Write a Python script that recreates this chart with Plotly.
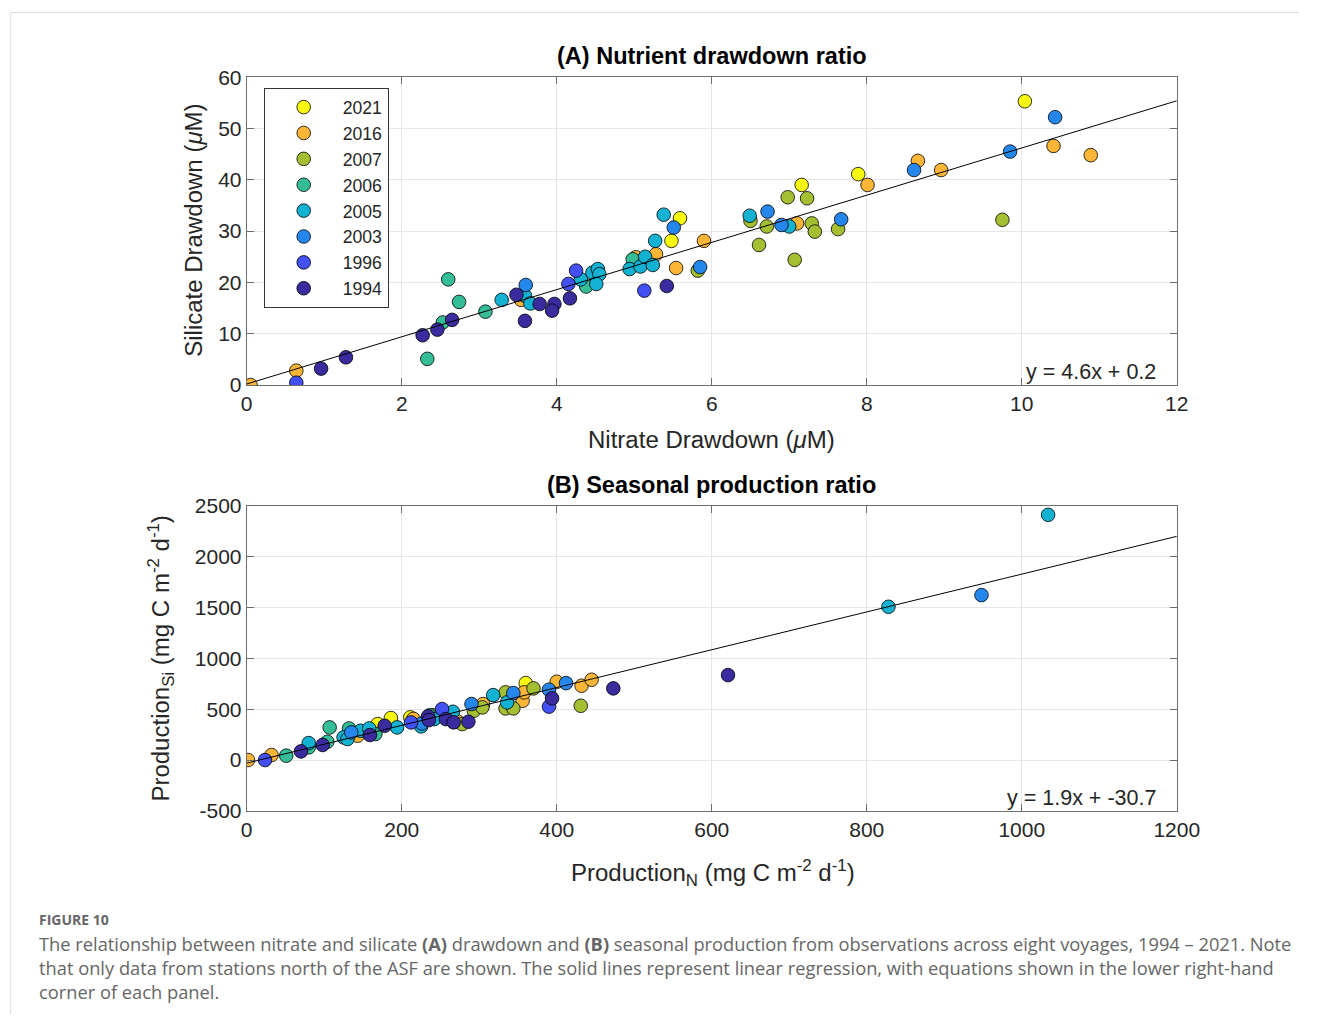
import plotly.graph_objects as go

W, H = 1322, 1025
# the photographed page shows the figure slightly reduced and offset; positions below are
# given in photographed-pixel terms and mapped back to figure pixels
S, OX, OY = 0.978, 5.3, 12.8

years = ["2021", "2016", "2007", "2006", "2005", "2003", "1996", "1994"]
colors = ["#f9f90f", "#fbb537", "#a5bf33", "#34bd97", "#13b1d2", "#2586ec", "#4350f4", "#3a2b9f"]

# Panel A: nitrate vs silicate drawdown (uM)
a_x = {
    "2021": [5.59, 5.48, 7.16, 7.89, 10.04],
    "2016": [0.05, 0.64, 3.54, 5.02, 5.28, 5.54, 5.90, 7.10, 8.01, 8.66, 8.96, 10.41, 10.89],
    "2007": [5.82, 6.50, 6.71, 6.61, 6.98, 7.23, 7.29, 7.33, 7.07, 7.63, 9.75],
    "2006": [2.33, 2.53, 2.60, 2.74, 3.08, 4.38, 4.98],
    "2005": [3.29, 3.59, 3.66, 4.31, 4.46, 4.53, 4.55, 4.51, 4.94, 5.08, 5.14, 5.24, 5.27, 5.38, 6.49, 7.00],
    "2003": [3.60, 5.51, 5.85, 6.72, 6.90, 7.67, 8.61, 9.85, 10.43],
    "1996": [0.64, 4.15, 4.25, 5.13],
    "1994": [0.96, 1.28, 2.27, 2.46, 2.65, 3.48, 3.59, 3.78, 3.97, 3.94, 4.17, 5.42],
}
a_y = {
    "2021": [32.5, 28.1, 39.0, 41.1, 55.3],
    "2016": [0.0, 2.8, 16.6, 24.9, 25.5, 22.8, 28.1, 31.5, 39.0, 43.7, 41.9, 46.6, 44.8],
    "2007": [22.3, 32.0, 30.9, 27.3, 36.6, 36.4, 31.5, 29.9, 24.4, 30.4, 32.2],
    "2006": [5.1, 12.2, 20.6, 16.2, 14.3, 19.2, 24.5],
    "2005": [16.6, 17.4, 15.9, 20.6, 21.9, 22.6, 21.6, 19.7, 22.6, 23.1, 25.0, 23.4, 28.1, 33.2, 33.0, 30.9],
    "2003": [19.5, 30.7, 23.0, 33.8, 31.2, 32.3, 41.9, 45.5, 52.2],
    "1996": [0.45, 19.7, 22.3, 18.4],
    "1994": [3.2, 5.4, 9.7, 10.8, 12.7, 17.6, 12.5, 15.8, 15.8, 14.5, 16.9, 19.3],
}

# Panel B: production N vs production Si (mg C m-2 d-1)
b_x = {
    "2021": [169, 186, 211, 360],
    "2016": [1.7, 32, 143, 215, 272, 305, 356, 358, 400, 432, 445],
    "2007": [240, 278, 293, 304, 334, 334, 344, 370, 431],
    "2006": [51, 80, 104, 107, 132, 166, 236],
    "2005": [80, 125, 130, 147, 158, 194, 225, 242, 266, 318, 336, 828, 1034],
    "2003": [135, 226, 290, 344, 390, 412, 948],
    "1996": [23.6, 212, 252, 390],
    "1994": [70, 98, 159, 178, 234, 235, 257, 267, 286, 394, 473, 621],
}
b_y = {
    "2021": [354, 413, 420, 757],
    "2016": [0, 49, 239, 405, 380, 551, 583, 666, 770, 731, 790],
    "2007": [440, 354, 485, 518, 666, 508, 508, 705, 534],
    "2006": [43, 125, 180, 321, 311, 256, 440],
    "2005": [167, 223, 207, 288, 311, 321, 331, 403, 475, 639, 567, 1508, 2413],
    "2003": [272, 360, 551, 659, 692, 757, 1623],
    "1996": [0, 370, 502, 525],
    "1994": [85, 148, 246, 337, 430, 393, 403, 371, 377, 607, 705, 836],
}

# regression lines (slope, intercept) and displayed equations
fit_a = (4.6, 0.2)
fit_b = (1.86, -30.7)
eq_a = "y = 4.6x + 0.2"
eq_b = "y = 1.9x + -30.7"
line_a_x = [0, 12]
line_b_x = [0, 1200]

a_yticks = [0, 10, 20, 30, 40, 50, 60]
b_yticks = [-500, 0, 500, 1000, 1500, 2000, 2500]
b_yticklabels = ["-500", "0", "500", "1000", "1500", "2000", "2500"]


def px_x(t):
    return min(1.0, max(0.0, ((t - OX) / S) / W))


def px_y(t):
    return min(1.0, max(0.0, 1 - ((t - OY) / S) / H))


def fs(v):
    return round(v / S, 2)


fig = go.Figure()

MS = 13.6
for yr, c in zip(years, colors):
    fig.add_trace(go.Scatter(
        x=a_x[yr], y=a_y[yr], mode="markers", name=yr, legendgroup=yr,
        marker=dict(size=MS, color=c, line=dict(color="black", width=0.8)),
        xaxis="x", yaxis="y"))
fig.add_trace(go.Scatter(
    x=line_a_x, y=[fit_a[0] * v + fit_a[1] for v in line_a_x], mode="lines",
    line=dict(color="black", width=1), showlegend=False, xaxis="x", yaxis="y"))

for yr, c in zip(years, colors):
    fig.add_trace(go.Scatter(
        x=b_x[yr], y=b_y[yr], mode="markers", name=yr, legendgroup=yr, showlegend=False,
        marker=dict(size=MS, color=c, line=dict(color="black", width=0.8)),
        xaxis="x2", yaxis="y2"))
fig.add_trace(go.Scatter(
    x=line_b_x, y=[fit_b[0] * v + fit_b[1] for v in line_b_x], mode="lines",
    line=dict(color="black", width=1), showlegend=False, xaxis="x2", yaxis="y2"))

FONT = "Liberation Sans, Arial, Helvetica, sans-serif"
axis_common = dict(
    showline=True, linecolor="#6e6e6e", linewidth=1, mirror="ticks",
    ticks="inside", ticklen=7, tickcolor="#6e6e6e", tickwidth=1,
    showgrid=True, gridcolor="#e6e6e6", gridwidth=1, zeroline=False,
    tickfont=dict(family=FONT, size=21, color="#262626"),
)
xdom = [px_x(246), px_x(1176)]

fig.update_layout(
    width=W, height=H, margin=dict(l=0, r=0, t=0, b=0),
    paper_bgcolor="white", plot_bgcolor="white",
    font=dict(family=FONT, color="#262626"),
    xaxis=dict(axis_common, domain=xdom, range=[0, 12], dtick=2, anchor="y"),
    yaxis=dict(axis_common, domain=[px_y(386), px_y(78)], range=[0, 60],
               tickvals=a_yticks, anchor="x"),
    xaxis2=dict(axis_common, domain=xdom, range=[0, 1200], dtick=200, anchor="y2"),
    yaxis2=dict(axis_common, domain=[px_y(812), px_y(507)], range=[-500, 2500],
                tickvals=b_yticks, ticktext=b_yticklabels, anchor="x2"),
    legend=dict(x=px_x(263), y=px_y(89), xanchor="left", yanchor="top",
                bordercolor="#333", borderwidth=1, bgcolor="white",
                font=dict(family=FONT, size=17.6, color="#262626"),
                itemwidth=68, tracegroupgap=0),
    showlegend=True,
)

ann = []


def add(text, x, y, size=22, bold=False, xanchor="center", yanchor="middle", angle=0,
        color="#262626", family=FONT):
    ann.append(dict(text=("<b>%s</b>" % text) if bold else text, x=px_x(x), y=px_y(y),
                    xref="paper", yref="paper", showarrow=False, xanchor=xanchor,
                    yanchor=yanchor, textangle=angle,
                    font=dict(family=family, size=size, color=color)))


add("(A) Nutrient drawdown ratio", 711, 57, size=fs(23), bold=True, color="black")
add("(B) Seasonal production ratio", 711, 486, size=fs(23), bold=True, color="black")
add("Nitrate Drawdown (<i>μ</i>M)", 711, 440, size=fs(23.5))
add("Silicate Drawdown (<i>μ</i>M)", 192, 231, size=fs(23.5), angle=-90)
add("Production<sub>N</sub> (mg C m<sup>-2</sup> d<sup>-1</sup>)", 712, 874, size=fs(23.5))
add("Production<sub>Si</sub> (mg C m<sup>-2</sup> d<sup>-1</sup>)", 160, 660, size=fs(23.5), angle=-90)
add(eq_a, 1157, 373, size=21.5, xanchor="right")
add(eq_b, 1157, 799, size=21.5, xanchor="right")

CAP = "Open Sans, Lato, sans-serif"
add("<b>FIGURE 10</b>", 36, 921, size=14, xanchor="left", color="#666666", family=CAP)
cap_lines = [
    "The relationship between nitrate and silicate <b>(A)</b> drawdown and <b>(B)</b> seasonal production from observations across eight voyages, 1994 – 2021. Note",
    "that only data from stations north of the ASF are shown. The solid lines represent linear regression, with equations shown in the lower right-hand",
    "corner of each panel.",
]
for i, t in enumerate(cap_lines):
    add(t, 36, 945 + 24 * i, size=18.3, xanchor="left", color="#666666", family=CAP)

fig.update_layout(annotations=ann)
# page frame (top and left edges only, kept inside the figure)
top = 1 - 0.5 / H
fig.add_shape(type="line", xref="paper", yref="paper",
              x0=px_x(10), x1=1, y0=top, y1=top,
              line=dict(color="#dddddd", width=1), layer="below")
fig.add_shape(type="line", xref="paper", yref="paper",
              x0=px_x(10), x1=px_x(10), y0=0, y1=top,
              line=dict(color="#dddddd", width=1), layer="below")

fig.write_html("out.html")
